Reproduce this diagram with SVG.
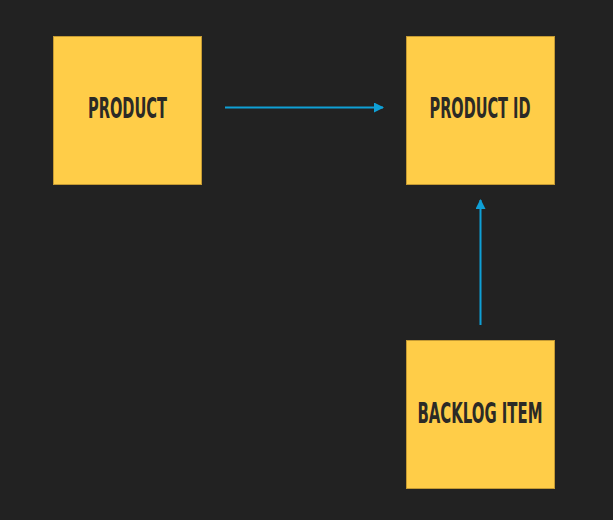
<svg xmlns="http://www.w3.org/2000/svg" width="613" height="520" viewBox="0 0 613 520">
<defs>
<style>
.note{fill:#ffcd48;stroke:#c49a34;stroke-width:1}
.lbl{font-family:"DejaVu Sans Condensed","DejaVu Sans","Liberation Sans",sans-serif;font-weight:bold;font-size:28px;fill:#2b2a26;text-anchor:middle}
.conn{stroke:#0fa0d6;stroke-width:2;fill:none}
</style>
<marker id="ah" viewBox="0 0 10 10" refX="9" refY="5" markerWidth="5" markerHeight="5" orient="auto" markerUnits="strokeWidth">
<path d="M0,0 L10,5 L0,10 z" fill="#0fa0d6"/>
</marker>
</defs>
<rect width="613" height="520" fill="#222222"/>
<g id="product">
<rect class="note" x="53.5" y="36.5" width="148" height="148"/>
<text class="lbl" x="127.5" y="118" textLength="79" lengthAdjust="spacingAndGlyphs">PRODUCT</text>
</g>
<g id="product-id">
<rect class="note" x="406.5" y="36.5" width="148" height="148"/>
<text class="lbl" x="480" y="118" textLength="101" lengthAdjust="spacingAndGlyphs">PRODUCT ID</text>
</g>
<g id="backlog-item">
<rect class="note" x="406.5" y="340.5" width="148" height="148"/>
<text class="lbl" x="480" y="423" textLength="125" lengthAdjust="spacingAndGlyphs">BACKLOG ITEM</text>
</g>
<g id="connectors">
<line class="conn" x1="225" y1="107.5" x2="383" y2="107.5" marker-end="url(#ah)"/>
<line class="conn" x1="480.5" y1="325" x2="480.5" y2="200" marker-end="url(#ah)"/>
</g>
</svg>
